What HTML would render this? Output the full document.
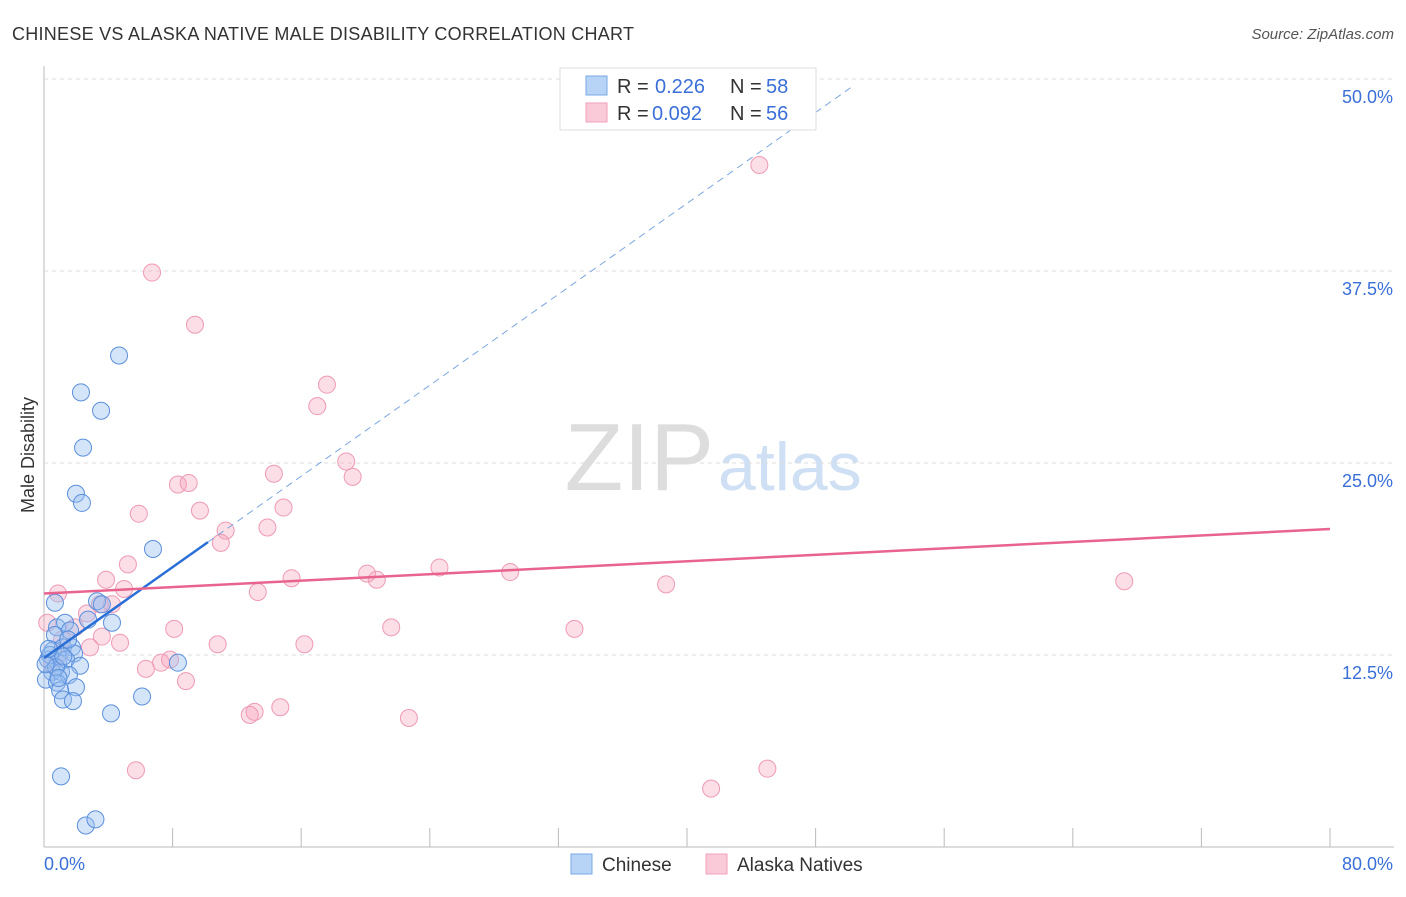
<!DOCTYPE html>
<html><head><meta charset="utf-8"><style>
body{margin:0;background:#fff;font-family:"Liberation Sans",sans-serif;}
svg text{font-family:"Liberation Sans",sans-serif;}
</style></head><body>
<svg id="c" width="1406" height="892">
<text x="12" y="40" font-size="18" fill="#333" textLength="622">CHINESE VS ALASKA NATIVE MALE DISABILITY CORRELATION CHART</text>
<text x="1394" y="39" font-size="15" fill="#555" font-style="italic" text-anchor="end">Source: ZipAtlas.com</text>
<text x="714" y="490" font-size="96" fill="#ddd" font-family="Liberation Serif" text-anchor="end">ZIP</text>
<text x="718" y="490" font-size="68" fill="#cfe0f5">atlas</text>
<text transform="translate(34,455) rotate(-90)" font-size="18" fill="#333" text-anchor="middle">Male Disability</text>
<g id="grid"></g><g id="pts"></g><g id="lines"></g>
<g>
<rect x="560" y="68" width="256" height="62" fill="#fff" stroke="#ddd"/>
<rect x="586" y="76" width="21" height="19" fill="#b7d3f5" stroke="#7aaae6"/>
<rect x="586" y="103" width="21" height="19" fill="#fbcad8" stroke="#f2a0b8"/>
<text x="617" y="93" font-size="20" fill="#333">R =</text>
<text x="655" y="93" font-size="20" fill="#3a6fd8">0.226</text>
<text x="730" y="93" font-size="20" fill="#333">N =</text>
<text x="766" y="93" font-size="20" fill="#3a6fd8">58</text>
<text x="617" y="120" font-size="20" fill="#333">R =</text>
<text x="652" y="120" font-size="20" fill="#3a6fd8">0.092</text>
<text x="730" y="120" font-size="20" fill="#333">N =</text>
<text x="766" y="120" font-size="20" fill="#3a6fd8">56</text>
</g>
<g>
<rect x="571" y="854" width="21" height="20" fill="#b7d3f5" stroke="#7aaae6"/>
<text x="602" y="871" font-size="19" fill="#333">Chinese</text>
<rect x="706" y="854" width="21" height="20" fill="#fbcad8" stroke="#f2a0b8"/>
<text x="737" y="871" font-size="19" fill="#333">Alaska Natives</text>
</g>
</svg>
<script>
const yTicks=[12.5,25,37.5,50];
const yTickLabels=["12.5%","25.0%","37.5%","50.0%"];
const xEndLabels=["0.0%","80.0%"];
const chineseX=[2.3,4.67,3.55,2.43,1.99,2.36,6.78,0.68,3.3,3.6,4.23,2.74,0.81,1.31,0.68,1.62,0.56,1.18,1.74,1.87,0.25,0.87,1.37,2.24,0.5,1.06,1.55,0.12,0.81,1.99,1.0,1.18,1.8,6.1,4.17,8.33,1.06,2.6,3.2,0.37,0.75,0.1,1.5,0.3,0.9,1.2];
const chineseY=[29.6,32.0,28.4,26.0,23.0,22.4,19.4,15.9,16.0,15.8,14.6,14.8,14.3,14.6,13.8,14.1,12.8,13.0,13.0,12.6,12.2,12.0,12.2,11.8,11.4,11.4,11.2,10.9,10.7,10.4,10.2,9.6,9.5,9.8,8.7,12.0,4.6,1.4,1.8,12.5,11.7,11.9,13.5,12.9,11.0,12.4];
const alaskaX=[6.72,9.39,44.5,17.6,17.0,18.8,19.2,14.3,8.33,9.0,5.9,9.7,14.9,11.3,11.0,13.9,5.22,3.86,4.98,0.87,13.3,15.4,20.1,20.7,24.6,29.0,38.7,67.2,3.48,2.67,4.23,1.93,8.1,21.6,33.0,4.73,3.6,10.8,16.2,2.86,1.12,7.84,7.28,6.34,8.83,13.1,12.8,14.7,22.7,5.72,41.5,45.0,0.5,1.0,0.2];
const alaskaY=[37.4,34.0,44.4,30.1,28.7,25.1,24.1,24.3,23.6,23.7,21.7,21.9,22.1,20.6,19.8,20.8,18.4,17.4,16.8,16.5,16.6,17.5,17.8,17.4,18.2,17.9,17.1,17.3,15.8,15.2,15.8,14.3,14.2,14.3,14.2,13.3,13.7,13.2,13.2,13.0,13.5,12.2,12.0,11.6,10.8,8.8,8.6,9.1,8.4,5.0,3.8,5.1,11.9,12.6,14.6];
const chineseTrend=[0,12.3,10.2,0.74,50.3];
const alaskaTrend=[16.5,20.7];
const X=v=>44+v/80*1286, Y=v=>847-v/12.5*192;
const NS="http://www.w3.org/2000/svg";
function mk(t,a,p){const e=document.createElementNS(NS,t);for(const k in a)e.setAttribute(k,a[k]);p.appendChild(e);return e;}
const g=document.getElementById('grid');
mk('line',{x1:44,y1:66,x2:44,y2:847,stroke:'#bbb'},g);
mk('line',{x1:44,y1:847,x2:1394,y2:847,stroke:'#bbb'},g);
yTicks.forEach((t,i)=>{
 const l=mk('line',{x1:44,y1:Y(t),x2:1394,y2:Y(t),stroke:'#ddd','stroke-dasharray':'4,4'},g);
 
 
 const tx=mk('text',{x:1393,y:Y(t)+24,'font-size':18,fill:'#3a6fd8','text-anchor':'end'},g);
 tx.textContent=yTickLabels[i];
 
 
});
for(let i=1;i<=10;i++){const l=mk('line',{x1:X(i*8),y1:828,x2:X(i*8),y2:847,stroke:'#bbb'},g);
 
 }
[[44,'start'],[1393,'end']].forEach((p,i)=>{const t=mk('text',{x:p[0],y:870,'font-size':18,fill:'#3a6fd8','text-anchor':p[1]},g);t.textContent=xEndLabels[i];
 
 });
const P=document.getElementById('pts');
alaskaX.forEach((x,i)=>{const c=mk('circle',{cx:X(x),cy:Y(alaskaY[i]),r:8.5,fill:'rgba(245,160,185,0.35)',stroke:'#ee9ab4','stroke-width':1},P);
 
 });
chineseX.forEach((x,i)=>{const c=mk('circle',{cx:X(x),cy:Y(chineseY[i]),r:8.5,fill:'rgba(150,190,240,0.4)',stroke:'#5b8fdc','stroke-width':1},P);
 
 });
const L=document.getElementById('lines');
const f=x=>chineseTrend[1]+chineseTrend[3]*x;
const b1=mk('line',{x1:X(chineseTrend[0]),y1:Y(f(chineseTrend[0])),x2:X(chineseTrend[2]),y2:Y(f(chineseTrend[2])),stroke:'#2a6fd6','stroke-width':2.5},L);


const b2=mk('line',{x1:X(chineseTrend[2]),y1:Y(f(chineseTrend[2])),x2:X(chineseTrend[4]),y2:Y(f(chineseTrend[4])),stroke:'#7aa6e0','stroke-width':1,'stroke-dasharray':'7,5'},L);


const p1=mk('line',{x1:X(0),y1:Y(alaskaTrend[0]),x2:X(80),y2:Y(alaskaTrend[1]),stroke:'#e8648f','stroke-width':2.5},L);


</script>
</body></html>
